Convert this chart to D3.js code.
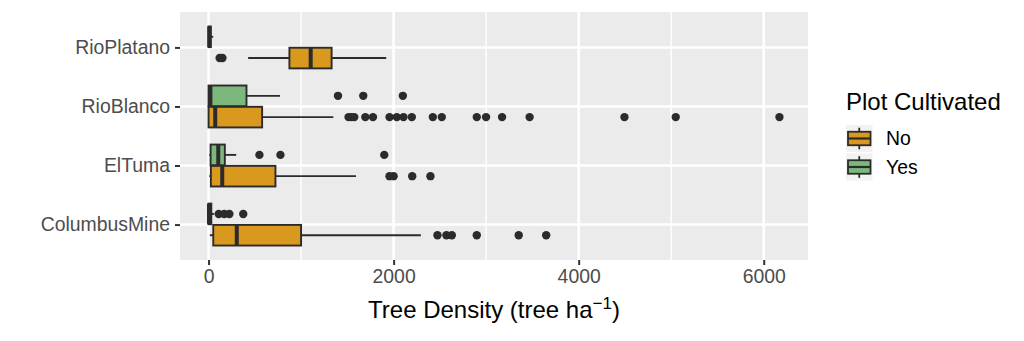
<!DOCTYPE html>
<html>
<head>
<meta charset="utf-8">
<script src="https://cdn.jsdelivr.net/npm/d3@7"></script>
<style>
  html, body { margin: 0; padding: 0; background: #fff; }
  svg { display: block; font-family: "Liberation Sans", Arial, Helvetica, sans-serif; }
</style>
</head>
<body>
<svg id="chart" width="1024" height="341"></svg>
<script>
// ---- data ----
const categories = ["RioPlatano", "RioBlanco", "ElTuma", "ColumbusMine"];
const groups = ["No", "Yes"];
const groupColors = ["#D9981E", "#7CB77B"];
const xTicks = [0, 2000, 4000, 6000];
const xMinorTicks = [1000, 3000, 5000];

// [lowerWhisker, Q1, median, Q3, upperWhisker] per category
const noStats = [
  [428, 874, 1104, 1330, 1920],
  [0, 0, 72, 579, 1348],
  [8, 25, 148, 723, 1594],
  [14, 51, 305, 1000, 2294]
];
const yesStats = [
  [0, 0, 8, 25, 50],
  [0, 0, 20, 410, 773],
  [8, 22, 105, 176, 299],
  [0, 0, 5, 30, 60]
];
const noOutliers = [
  [120, 150],
  [1513, 1545, 1575, 1694, 1777, 1956, 2035, 2107, 2197, 2424, 2521, 2899, 2999, 3172, 3470, 4495, 5049, 6170],
  [1956, 2000, 2201, 2398],
  [2474, 2571, 2629, 2899, 3352, 3649]
];
const yesOutliers = [
  [],
  [1399, 1672, 2100],
  [550, 777, 1899],
  [110, 170, 225, 375]
];

// ---- layout ----
const panel = { left: 180, right: 808, top: 12, bottom: 260 };
const svg = d3.select("#chart");

const allVals = [].concat(...noStats, ...yesStats, ...noOutliers, ...yesOutliers);
const vmin = d3.min(allVals), vmax = d3.max(allVals);
const pad = (vmax - vmin) * 0.05;
const x = d3.scaleLinear().domain([vmin - pad, vmax + pad]).range([panel.left, panel.right]);
const y = d3.scalePoint().domain(categories).range([panel.top, panel.bottom]).padding(0.6);
const step = y.step();
const yInner = d3.scaleBand().domain(["Yes", "No"]).range([-0.355 * step, 0.355 * step]).paddingInner(0.03);
const color = d3.scaleOrdinal().domain(groups).range(groupColors);

// panel background
svg.append("rect")
  .attr("x", panel.left).attr("y", panel.top)
  .attr("width", panel.right - panel.left).attr("height", panel.bottom - panel.top)
  .attr("fill", "#EBEBEB");

// gridlines
const grid = svg.append("g");
grid.selectAll(".minor").data(xMinorTicks).enter().append("line")
  .attr("x1", d => x(d)).attr("x2", d => x(d))
  .attr("y1", panel.top).attr("y2", panel.bottom)
  .attr("stroke", "#fff").attr("stroke-width", 1.4);
grid.selectAll(".major").data(xTicks).enter().append("line")
  .attr("x1", d => x(d)).attr("x2", d => x(d))
  .attr("y1", panel.top).attr("y2", panel.bottom)
  .attr("stroke", "#fff").attr("stroke-width", 2.6);
grid.selectAll(".hmajor").data(categories).enter().append("line")
  .attr("x1", panel.left).attr("x2", panel.right)
  .attr("y1", d => y(d)).attr("y2", d => y(d))
  .attr("stroke", "#fff").attr("stroke-width", 2.6);

// boxes
const boxes = [];
categories.forEach((c, i) => {
  boxes.push({ cat: c, group: "No", s: noStats[i], out: noOutliers[i] });
  boxes.push({ cat: c, group: "Yes", s: yesStats[i], out: yesOutliers[i] });
});

const bg = svg.append("g");
const bh = yInner.bandwidth();
boxes.forEach(b => {
  const y0 = y(b.cat) + yInner(b.group);
  const yc = y0 + bh / 2;
  const g = bg.append("g");
  // whiskers
  g.append("line").attr("x1", x(b.s[0])).attr("x2", x(b.s[1])).attr("y1", yc).attr("y2", yc)
    .attr("stroke", "#2b2b2b").attr("stroke-width", 1.9);
  g.append("line").attr("x1", x(b.s[3])).attr("x2", x(b.s[4])).attr("y1", yc).attr("y2", yc)
    .attr("stroke", "#2b2b2b").attr("stroke-width", 1.9);
  // box
  g.append("rect").attr("x", x(b.s[1])).attr("y", y0)
    .attr("width", Math.max(0, x(b.s[3]) - x(b.s[1]))).attr("height", bh)
    .attr("fill", color(b.group)).attr("stroke", "#2b2b2b").attr("stroke-width", 1.9);
  // median
  g.append("line").attr("x1", x(b.s[2])).attr("x2", x(b.s[2])).attr("y1", y0).attr("y2", y0 + bh)
    .attr("stroke", "#2b2b2b").attr("stroke-width", 4);
  // outliers
  g.selectAll("circle").data(b.out).enter().append("circle")
    .attr("cx", d => x(d)).attr("cy", yc).attr("r", 4.2).attr("fill", "#2b2b2b");
});

// x axis
const xAxis = svg.append("g").attr("transform", `translate(0,${panel.bottom})`)
  .call(d3.axisBottom(x).tickValues(xTicks).tickSize(5).tickPadding(4).tickFormat(d3.format("d")));
xAxis.select(".domain").remove();
xAxis.selectAll(".tick line").attr("stroke", "#333").attr("stroke-width", 2);
xAxis.selectAll(".tick text").attr("fill", "#4D4D4D").attr("font-size", 19.4)
  .attr("font-family", "Liberation Sans, Arial, sans-serif");

// y axis
const yAxis = svg.append("g").attr("transform", `translate(${panel.left},0)`)
  .call(d3.axisLeft(y).tickSize(5).tickPadding(5));
yAxis.select(".domain").remove();
yAxis.selectAll(".tick line").attr("stroke", "#333").attr("stroke-width", 2);
yAxis.selectAll(".tick text").attr("fill", "#4D4D4D").attr("font-size", 19.4)
  .attr("font-family", "Liberation Sans, Arial, sans-serif");

// x axis title
const xt = svg.append("text").attr("x", (panel.left + panel.right) / 2).attr("y", 318)
  .attr("text-anchor", "middle").attr("font-size", 24).attr("fill", "#000");
xt.append("tspan").text("Tree Density (tree ha");
xt.append("tspan").attr("font-size", 17).attr("dy", -9).text("\u22121");
xt.append("tspan").attr("dy", 9).text(")");

// legend
const lg = svg.append("g");
lg.append("text").attr("x", 846).attr("y", 110).attr("font-size", 24).attr("fill", "#000")
  .text("Plot Cultivated");
const keyTop = [125, 153.5];
groups.forEach((gname, i) => {
  const ky = keyTop[i], kh = 27, kx = 846, kw = 26.5;
  lg.append("rect").attr("x", kx).attr("y", ky).attr("width", kw).attr("height", kh).attr("fill", "#F2F2F2");
  const cx = kx + kw / 2;
  lg.append("line").attr("x1", cx).attr("x2", cx).attr("y1", ky + kh * 0.1).attr("y2", ky + kh * 0.9)
    .attr("stroke", "#2b2b2b").attr("stroke-width", 1.8);
  lg.append("rect").attr("x", kx + 2).attr("y", ky + kh * 0.25).attr("width", kw - 4).attr("height", kh * 0.5)
    .attr("fill", color(gname)).attr("stroke", "#2b2b2b").attr("stroke-width", 1.8);
  lg.append("line").attr("x1", kx + 2).attr("x2", kx + kw - 2).attr("y1", ky + kh / 2).attr("y2", ky + kh / 2)
    .attr("stroke", "#2b2b2b").attr("stroke-width", 2.2);
  lg.append("text").attr("x", 886).attr("y", ky + kh / 2).attr("dy", "0.35em")
    .attr("font-size", 19.4).attr("fill", "#000").text(gname);
});
</script>
</body>
</html>
